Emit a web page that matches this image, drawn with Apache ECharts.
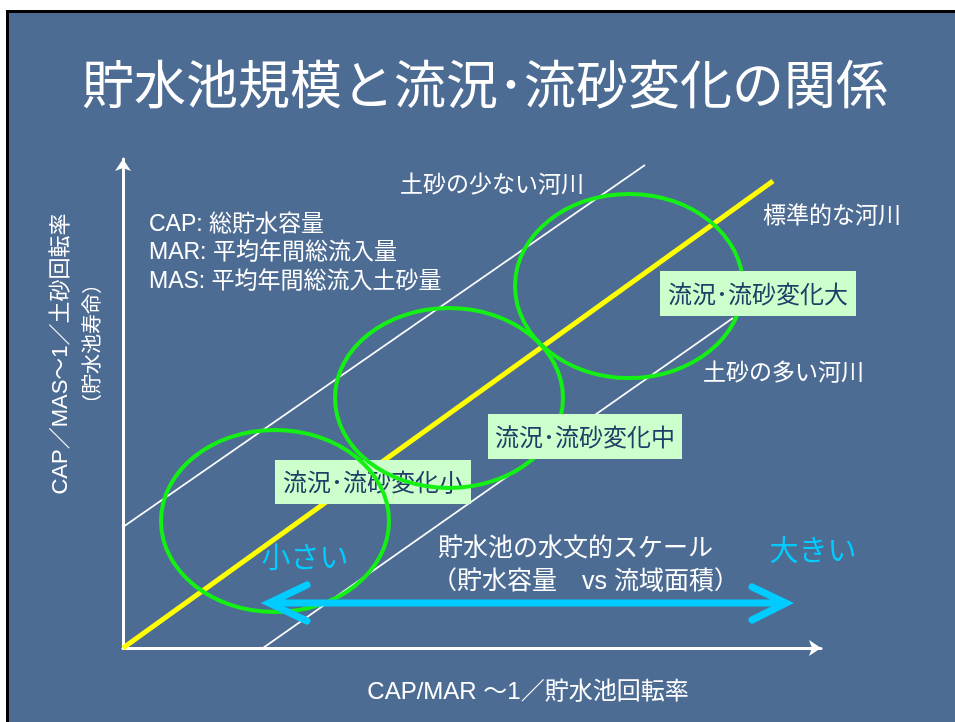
<!DOCTYPE html>
<html>
<head>
<meta charset="utf-8">
<script src="https://cdn.jsdelivr.net/npm/echarts@6/dist/echarts.min.js"></script>
<style>html,body{margin:0;padding:0;background:#fff}#c{width:955px;height:722px}</style>
</head>
<body>
<div id="c"></div>
<script>
// ---- data (conceptual units) ----
const standardRiver = [[0, 0], [650, 467]];        // 標準的な河川
const lowSedimentRiver = [[0, 121], [522, 483]];   // 土砂の少ない河川
const highSedimentRiver = [[140, 0], [610, 330]];  // 土砂の多い河川
// ellipse: [centerX, centerY, radiusX, radiusY]
const smallChange = [152, 127, 114, 91];
const mediumChange = [326, 250, 114, 90];
const largeChange = [506, 362, 114, 92];
const xMax = 698, yMax = 489;

const titleText = '貯水池規模と流況･流砂変化の関係';
const legendLines = ['CAP: 総貯水容量', 'MAR: 平均年間総流入量', 'MAS: 平均年間総流入土砂量'];
const riverLabels = ['土砂の少ない河川', '標準的な河川', '土砂の多い河川'];
const changeLabels = ['流況･流砂変化小', '流況･流砂変化中', '流況･流砂変化大'];
const scaleLabels = ['貯水池の水文的スケール', '（貯水容量　vs 流域面積）', '小さい', '大きい'];
const xName = 'CAP/MAR ～1／貯水池回転率';
const yName1 = 'CAP／MAS～1／土砂回転率';
const yName2 = '（貯水池寿命）';

const FF = '"Liberation Sans", Arial, "Noto Sans CJK JP", sans-serif';
const JF = '"Noto Sans CJK JP", sans-serif';

const chart = echarts.init(document.getElementById('c'), null, {renderer: 'canvas'});

function txt(text, x, y, size, color, align, font) {
  return {
    type: 'text', x: x, y: y, z: 10,
    style: {text: text, fill: color || '#fff', font: size + 'px ' + (font || FF),
            align: align || 'left', verticalAlign: 'middle'}
  };
}
function box(text, x, y, w, h, z) {
  return {
    type: 'group', z: z,
    children: [
      {type: 'rect', z: z, shape: {x: x, y: y, width: w, height: h}, style: {fill: '#ccffcc'}},
      {type: 'text', z: z, x: x + w / 2, y: y + h / 2,
       style: {text: text, fill: '#1f3d66', font: '24px ' + JF, align: 'center', verticalAlign: 'middle'}}
    ]
  };
}

const cyan = '#00ccff';
const graphics = [
  {type: 'rect', z: -10, shape: {x: 7.5, y: 11.5, width: 1000, height: 800},
   style: {fill: '#4d6c94', stroke: '#000', lineWidth: 3}},
  txt(titleText, 485, 84, 52, '#fff', 'center', JF),
  txt(legendLines[0], 149, 225, 23),
  txt(legendLines[1], 149, 253, 23),
  txt(legendLines[2], 149, 282, 23),
  txt(riverLabels[0], 400, 186, 23),
  txt(riverLabels[1], 763, 217, 23),
  txt(riverLabels[2], 703, 374, 23),
  txt(scaleLabels[0], 438, 549, 25),
  txt(scaleLabels[1], 432, 582, 25),
  txt(scaleLabels[2], 305, 560, 29, cyan, 'center'),
  txt(scaleLabels[3], 813, 553, 29, cyan, 'center'),
  txt(xName, 528, 692, 24, '#fff', 'center'),
  {type: 'text', z: 10, x: 61, y: 354, rotation: Math.PI / 2,
   style: {text: yName1, fill: '#fff', font: '22px ' + FF, align: 'center', verticalAlign: 'middle'}},
  {type: 'text', z: 10, x: 91, y: 344, rotation: Math.PI / 2,
   style: {text: yName2, fill: '#fff', font: '20px ' + JF, align: 'center', verticalAlign: 'middle'}},
  box(changeLabels[0], 275, 460, 196, 44, 3),
  box(changeLabels[1], 488, 414, 194, 45, 6),
  box(changeLabels[2], 660, 271, 196, 45, 6),
  // scale arrow
  {type: 'line', z: 7, shape: {x1: 272, y1: 603, x2: 783, y2: 603},
   style: {stroke: cyan, lineWidth: 7, lineCap: 'round'}},
  {type: 'polyline', z: 7, shape: {points: [[307, 585], [269, 603], [307, 621]]},
   style: {stroke: cyan, lineWidth: 7, lineCap: 'round', lineJoin: 'miter', fill: null}},
  {type: 'polyline', z: 7, shape: {points: [[752, 587], [786, 603], [752, 620]]},
   style: {stroke: cyan, lineWidth: 7, lineCap: 'round', lineJoin: 'miter', fill: null}}
];

const axisStyle = {
  show: true, symbol: ['none', 'arrow'], symbolSize: [12, 12],
  lineStyle: {color: '#fff', width: 3}
};

chart.setOption({
  backgroundColor: '#ffffff',
  animation: false,
  grid: {left: 123, right: 955 - 123 - xMax, top: 648 - yMax, bottom: 74, containLabel: false},
  xAxis: {type: 'value', min: 0, max: xMax, axisLine: axisStyle, axisTick: {show: false},
          axisLabel: {show: false}, splitLine: {show: false}},
  yAxis: {type: 'value', min: 0, max: yMax, axisLine: axisStyle, axisTick: {show: false},
          axisLabel: {show: false}, splitLine: {show: false}},
  graphic: graphics,
  series: [
    {type: 'line', z: 2, data: lowSedimentRiver, symbol: 'none', silent: true,
     lineStyle: {color: '#fff', width: 1.6}},
    {type: 'line', z: 2, data: highSedimentRiver, symbol: 'none', silent: true,
     lineStyle: {color: '#fff', width: 1.6}},
    {type: 'line', z: 2, data: standardRiver, symbol: 'none', silent: true,
     lineStyle: {color: '#ffff00', width: 5}},
    {type: 'custom', z: 4, clip: false, silent: true,
     data: [smallChange, mediumChange, largeChange],
     encode: {x: 0, y: 1},
     renderItem: function (params, api) {
       const c = api.coord([api.value(0), api.value(1)]);
       const s = api.size([api.value(2), api.value(3)]);
       return {type: 'ellipse', shape: {cx: c[0], cy: c[1], rx: s[0], ry: s[1]},
               style: {fill: 'none', stroke: '#14f014', lineWidth: 4}};
     }}
  ]
});
</script>
</body>
</html>
